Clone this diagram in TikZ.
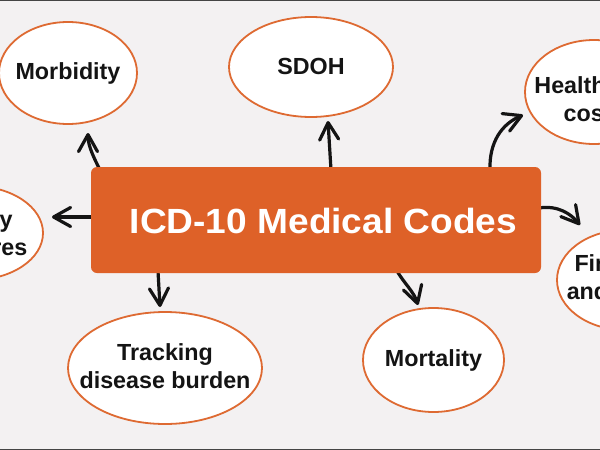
\documentclass[tikz,border=0pt]{standalone}
\usepackage{fontspec}
\usepackage{graphicx}
\setmainfont{Liberation Sans}
\usetikzlibrary{arrows.meta,shapes.geometric,calc}
\definecolor{bg}{HTML}{F3F1F2}
\definecolor{boxor}{HTML}{DE6128}
\definecolor{edgeor}{HTML}{DE6A32}
\definecolor{framegray}{HTML}{444444}
\begin{document}
\begin{tikzpicture}[x=1pt,y=-1pt,
  bubble/.style={ellipse, draw=edgeor, line width=1.8pt, fill=white, inner sep=0pt},
  bubbletext/.style={inner sep=0pt, align=center,
    font=\fontsize{23.3}{28}\selectfont\bfseries, text=black!92},
  link/.style={line width=3.2pt, line cap=round, black!92,
    -{Straight Barb[length=17pt,width=19pt,line cap=round,line join=round]}},
  mainbox/.style={fill=boxor, rounded corners=6pt, inner sep=0pt,
    minimum width=450pt, minimum height=106pt},
  titletext/.style={text=white, inner sep=0pt, font=\fontsize{35}{40}\selectfont\bfseries}
]
\useasboundingbox (0,0) rectangle (600,450);
\clip (0,0) rectangle (600,450);
\fill[bg] (0,0) rectangle (600,450);
\fill[framegray] (0,0) rectangle (600,1.4);
\fill[framegray] (0,448.5) rectangle (600,450);

% bubbles
\node[bubble, minimum width=138pt, minimum height=102pt] (morb) at (68,73) {};
\node[bubbletext] (morbt) at (morb.center) {Morbidity};
\node[bubble, minimum width=164pt, minimum height=100pt] (sdoh) at (311,67) {};
\node[bubbletext] (sdoht) at ($(sdoh.center)+(0,-1)$) {SDOH};
\node[bubble, minimum width=138pt, minimum height=104pt] (cost) at (594,92) {};
\node[bubbletext] (costt) at ($(cost.center)+(0,7)$) {Healthcare\\costs};
\node[bubble, minimum width=140pt, minimum height=94pt] (qual) at (-27,233) {};
\node[bubbletext] (qualt) at (qual.center) {Quality\\measures};
\node[bubble, minimum width=136pt, minimum height=100pt] (fin) at (625,280) {};
\node[bubbletext] (fint) at ($(fin.center)+(0,0)$) {Financial\\and billing};
\node[bubble, minimum width=194pt, minimum height=112pt] (track) at (165,368) {};
\node[bubbletext] (trackt) at ($(track.center)+(0,-2)$) {Tracking\\disease burden};
\node[bubble, minimum width=141pt, minimum height=104pt] (mort) at (433.5,360) {};
\node[bubbletext] (mortt) at (mort.center) {Mortality};

% centre box position (drawn after arrows)
\coordinate (boxc) at (316,220);
\coordinate (t1) at (88,133);
\coordinate (t2) at (328,121);
\coordinate (t3) at (523,115);
\coordinate (t4) at (580,225);
\coordinate (t5) at (418,305);
\coordinate (t6) at (160,307);
\coordinate (t7) at (52,217);

\draw[link] ($(boxc)+(-216,-50)$) .. controls (94,158) and (88,146) .. (t1);
\draw[link] ($(boxc)+(15,-50)$) -- (t2);
\draw[link] ($(boxc)+(174,-50)$) .. controls (489,142) and (502,124) .. (t3);
\draw[link] ($(boxc)+(223,-12)$) .. controls (558,205) and (571,214) .. (t4);
\draw[link] ($(boxc)+(81,51)$) .. controls (404,283) and (414,292) .. (t5);
\draw[link] ($(boxc)+(-158,51)$) -- (t6);
\draw[link] ($(boxc)+(-223,-3)$) -- (t7);

\node[mainbox] (box) at (boxc) {};
\node[titletext] (title) at ($(box.center)+(7.5,1)$) {\scalebox{1.06}[1]{ICD-10 Medical Codes}};
\end{tikzpicture}
\end{document}
